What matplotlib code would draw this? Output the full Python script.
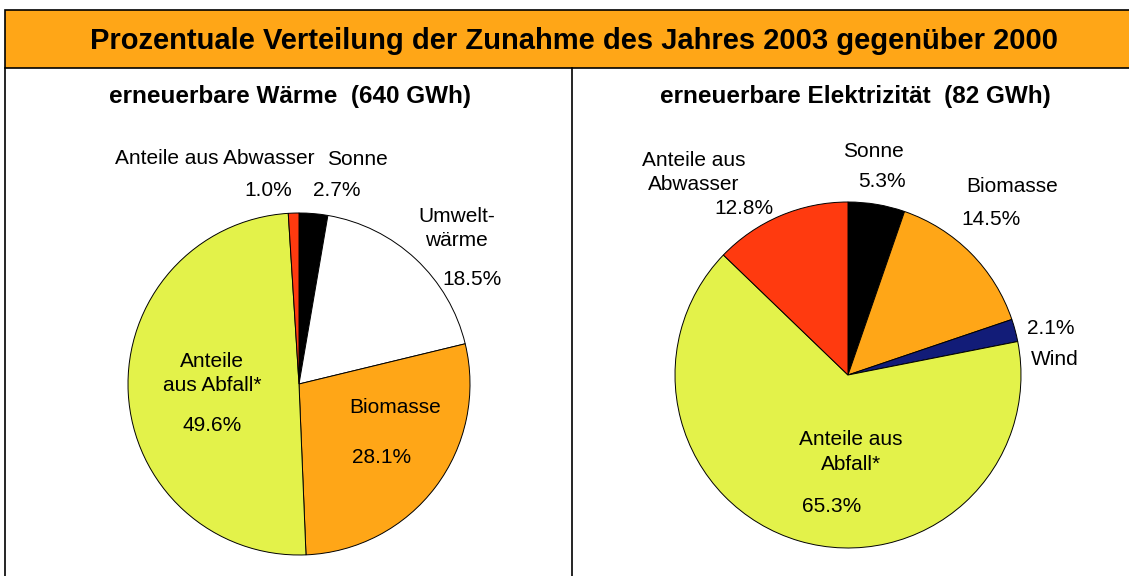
import matplotlib.pyplot as plt
from matplotlib.patches import Rectangle
from matplotlib.lines import Line2D

plt.rcParams['font.family'] = ['Liberation Sans', 'DejaVu Sans']

# Farben
ORANGE = "#FFA617"
YELLOW = "#E3F24A"
RED = "#FF3A0F"
NAVY = "#121C78"

# Wärme (640 GWh), im Uhrzeigersinn ab 12 Uhr
waerme_namen = ["Sonne", "Umweltwärme", "Biomasse", "Anteile aus Abfall*", "Anteile aus Abwasser"]
waerme_werte = [2.7, 18.5, 28.1, 49.6, 1.0]
waerme_farben = ["black", "white", ORANGE, YELLOW, RED]

# Elektrizität (82 GWh)
strom_namen = ["Sonne", "Biomasse", "Wind", "Anteile aus Abfall*", "Anteile aus Abwasser"]
strom_werte = [5.3, 14.5, 2.1, 65.3, 12.8]
strom_farben = ["black", ORANGE, NAVY, YELLOW, RED]

# Beschriftungen: (Text, x, y) in Einheiten des Kreisradius
waerme_texte = [
    ("Anteile aus Abwasser", -0.49, 1.32),
    ("1.0%", -0.18, 1.13),
    ("Sonne", 0.34, 1.31),
    ("2.7%", 0.22, 1.13),
    ("Umwelt-\nwärme", 0.92, 0.91),
    ("18.5%", 1.01, 0.61),
    ("Anteile\naus Abfall*", -0.51, 0.06),
    ("49.6%", -0.51, -0.24),
    ("Biomasse", 0.56, -0.14),
    ("28.1%", 0.48, -0.43),
]
strom_texte = [
    ("Anteile aus\nAbwasser", -0.89, 1.17),
    ("12.8%", -0.60, 0.965),
    ("Sonne", 0.145, 1.29),
    ("5.3%", 0.197, 1.116),
    ("Biomasse", 0.948, 1.087),
    ("14.5%", 0.827, 0.896),
    ("2.1%", 1.173, 0.266),
    ("Wind", 1.197, 0.087),
    ("Anteile aus\nAbfall*", 0.017, -0.445),
    ("65.3%", -0.092, -0.763),
]

W, H = 1129, 576
fig = plt.figure(figsize=(W / 100, H / 100), dpi=100)


def px(x0, y0, w, h):
    # Pixelangaben (von oben links) in Figurkoordinaten
    return [x0 / W, (H - y0 - h) / H, w / W, h / H]


# Rahmen und Titelband
fig.add_artist(Rectangle((5 / W, (H - 68) / H), 1.0, 58 / H, transform=fig.transFigure,
                         facecolor=ORANGE, edgecolor="black", linewidth=1.2))
fig.add_artist(Line2D([5 / W, 5 / W], [0, (H - 68) / H], transform=fig.transFigure,
                      color="black", linewidth=1.2))
fig.add_artist(Line2D([572 / W, 572 / W], [0, (H - 68) / H], transform=fig.transFigure,
                      color="black", linewidth=1.2))
fig.text(574 / W, (H - 41) / H, "Prozentuale Verteilung der Zunahme des Jahres 2003 gegenüber 2000",
         ha="center", va="center", fontsize=21, fontweight="bold")
fig.text(290 / W, (H - 97) / H, "erneuerbare Wärme  (640 GWh)",
         ha="center", va="center", fontsize=17.5, fontweight="bold")
fig.text(855 / W, (H - 97) / H, "erneuerbare Elektrizität  (82 GWh)",
         ha="center", va="center", fontsize=17.5, fontweight="bold")


def torte(rect, werte, farben, texte):
    ax = fig.add_axes(rect)
    ax.pie(werte, colors=farben, startangle=90, counterclock=False, radius=1.0,
           wedgeprops=dict(edgecolor="black", linewidth=0.7))
    ax.set_xlim(-1, 1)
    ax.set_ylim(-1, 1)
    ax.set_aspect("equal")
    ax.axis("off")
    for txt, x, y in texte:
        ax.text(x, y, txt, ha="center", va="center", fontsize=15, linespacing=1.35)
    return ax


torte(px(299 - 171, 384 - 171, 342, 342), waerme_werte, waerme_farben, waerme_texte)
torte(px(848 - 173, 375 - 173, 346, 346), strom_werte, strom_farben, strom_texte)

fig.savefig("out.png", dpi=100)
